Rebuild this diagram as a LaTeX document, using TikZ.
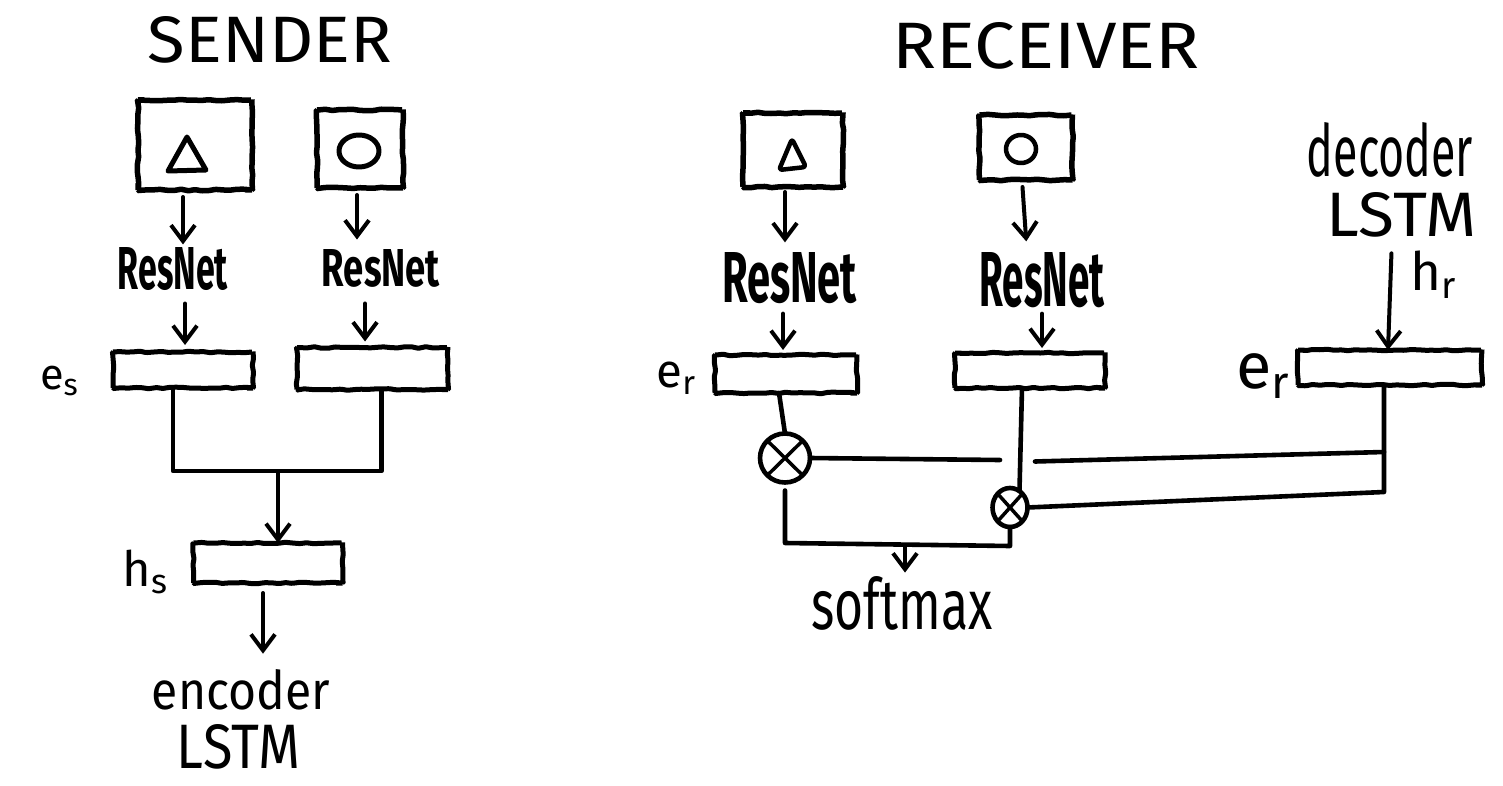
\documentclass[tikz,border=0pt]{standalone}
\usepackage{graphicx}
\usepackage{fontspec}
\setmainfont{Fira Sans}
\usetikzlibrary{arrows.meta,shapes.geometric,decorations.pathmorphing,calc}
\newcommand{\handtxt}[3]{\resizebox{#1pt}{#2pt}{#3}}
\newcommand{\handbf}[3]{\resizebox{#1pt}{#2pt}{\bfseries #3}}
\newcommand{\handw}[2]{\resizebox{#1pt}{!}{#2}}
\begin{document}
\pgfmathsetseed{7}
\begin{tikzpicture}[x=1pt,y=-1pt,
  every node/.style={inner sep=0pt, outer sep=0pt},
  sk/.style={decorate, decoration={random steps, segment length=7pt, amplitude=0.8pt}, rounded corners=1pt},
  imgbox/.style={draw, line width=5.5pt, sk},
  vecbox/.style={draw, line width=5pt, sk},
  wire/.style={line width=4.6pt, line cap=round, line join=round},
  arr/.style={wire, line width=4pt, -{Straight Barb[length=16pt,width=24pt]}},
  mul/.style={draw, ellipse, line width=4.6pt},
  glyph/.style={line width=5pt, line cap=round, line join=round}
]
\fill[white] (0,0) rectangle (1503,786);
\useasboundingbox (0,0) rectangle (1503,786);

% ---------------- SENDER ----------------
\node (sender) at (270,40) {\handtxt{244}{46}{SENDER}};

\node[imgbox, minimum width=114pt, minimum height=90pt] (simg1) at (195,145) {};
\draw[glyph] (168,171) -- (187,137) -- (206,170) -- cycle;
\node[imgbox, minimum width=86pt, minimum height=78pt] (simg2) at (360,149) {};
\draw[glyph] (359,151) ellipse [x radius=20pt, y radius=16pt];

\node (sres1) at (173,269) {\handbf{110}{42}{ResNet}};
\node (sres2) at (381,268.5) {\handbf{118}{37}{ResNet}};

\draw[arr, shorten <=7pt, shorten >=3pt] ([xshift=-12pt]simg1.south) -- ([xshift=10pt]sres1.north);
\draw[arr, shorten <=7pt, shorten >=10pt] ([xshift=-3pt]simg2.south) -- ([xshift=-24pt]sres2.north);

\node[vecbox, minimum width=140pt, minimum height=36pt] (se1) at (183,370) {};
\node[vecbox, minimum width=151pt, minimum height=42pt] (se2) at (372.5,368.5) {};
\node (es) at (60,381) {\handw{40}{e\textsubscript{s}}};

\draw[arr, shorten <=13pt, shorten >=7pt] ([xshift=12pt]sres1.south) -- ([xshift=2pt]se1.north);
\draw[arr, shorten <=16pt, shorten >=6pt] ([xshift=-16pt]sres2.south) -- ([xshift=-7.5pt]se2.north);

\coordinate (sj) at (278,471);
\draw[wire] ([xshift=-10pt]se1.south) |- (sj) -| ([xshift=9pt]se2.south);

\node[vecbox, minimum width=149pt, minimum height=40pt] (sh) at (268,563) {};
\node (hs) at (146,572) {\handw{47}{h\textsubscript{s}}};
\draw[arr] (sj) -- (sj |- sh.north);

\node (enc) at (241,690) {\handtxt{178}{40}{encoder}};
\node (elstm) at (238.5,747) {\handtxt{123}{44}{LSTM}};
\draw[arr, shorten <=10pt, shorten >=16pt] ([xshift=-5pt]sh.south) -- ([xshift=22pt]enc.north);

% ---------------- RECEIVER ----------------
\node (receiver) at (1046,46) {\handtxt{307}{46}{RECEIVER}};

\node[imgbox, minimum width=100pt, minimum height=74pt] (rimg1) at (793,150) {};
\draw[glyph, line width=4.5pt, rounded corners=3pt] (779,170) -- (792,139) -- (806,167) -- cycle;
\node[imgbox, minimum width=93pt, minimum height=65pt] (rimg2) at (1026,147.5) {};
\draw[glyph, line width=4.5pt] (1021,149) ellipse [x radius=15pt, y radius=14pt];

\node (rres1) at (789.5,278) {\handbf{135}{50}{ResNet}};
\node (rres2) at (1042,280) {\handbf{125}{54}{ResNet}};

\draw[arr, shorten <=5pt, shorten >=10pt] ([xshift=-8pt]rimg1.south) -- ([xshift=-4.5pt]rres1.north);
\draw[arr, shorten <=7pt, shorten >=11pt] ([xshift=-4pt]rimg2.south) -- ([xshift=-15pt]rres2.north);

\node (dec) at (1390,150) {\handtxt{166}{54}{decoder}};
\node (dlstm) at (1402,215) {\handtxt{150}{44}{LSTM}};

\node[vecbox, minimum width=142pt, minimum height=38pt] (re1) at (786,374) {};
\node[vecbox, minimum width=150pt, minimum height=35pt] (re2) at (1030,370.5) {};
\node[vecbox, minimum width=184pt, minimum height=35pt] (re3) at (1390,367.5) {};
\node (er1) at (677,378) {\handw{41}{e\textsubscript{r}}};
\node (er3) at (1264,376) {\handw{56}{e\textsubscript{r}}};

\draw[arr, shorten <=10pt, shorten >=5pt] ([xshift=-6.5pt]rres1.south) -- ([xshift=-3pt]re1.north);
\draw[arr, shorten <=6pt, shorten >=5pt] (rres2.south) -- ([xshift=12pt]re2.north);

\draw[arr, shorten <=16pt] ([xshift=-10pt]dlstm.south) -- ([xshift=-2pt]re3.north);
\node (hr) at (1434,275) {\handw{48}{h\textsubscript{r}}};

\node[mul, minimum width=50pt, minimum height=49pt] (m1) at (785,458) {};
\node[mul, minimum width=35pt, minimum height=39pt] (m2) at (1010,507.5) {};
\draw[wire, line width=3.5pt] (m1.north west) -- (m1.south east) (m1.north east) -- (m1.south west);
\draw[wire, line width=3.5pt] (m2.north west) -- (m2.south east) (m2.north east) -- (m2.south west);

\draw[wire] ([xshift=-7pt]re1.south) -- (m1.north);
\draw[wire] ([xshift=-8pt]re2.south) -- (m2.60);

\coordinate (g1) at (1000,460);
\coordinate (g2) at (1035,461.5);
\coordinate (rj1) at (1384,452);
\coordinate (rj2) at (1384,492);
\draw[wire] (m1.east) -- (g1);
\draw[wire] (g2) -- (rj1);
\draw[wire] ([xshift=-6pt]re3.south) -- (rj2) -- (m2.east);

\coordinate (b1) at (785,543);
\coordinate (b2) at (1010,546);
\draw[wire, shorten <=8pt] (m1.south) -- (b1) -- (b2) -- (m2.south);

\node (softmax) at (902,603.5) {\handtxt{181}{53}{softmax}};
\coordinate (sm0) at (905,545);
\draw[arr, shorten >=4pt] (sm0) -- (sm0 |- softmax.north);
\end{tikzpicture}
\end{document}
